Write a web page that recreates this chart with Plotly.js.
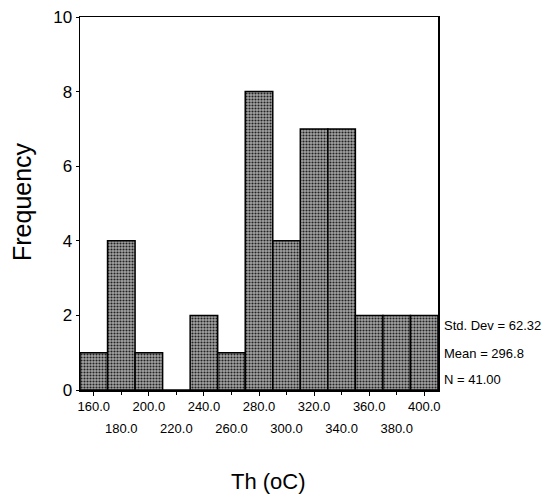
<!DOCTYPE html>
<html>
<head>
<meta charset="utf-8">
<script src="https://cdn.plot.ly/plotly-3.0.1.min.js"></script>
<style>html,body{margin:0;padding:0;background:#fff;}#chart{width:546px;height:498px;}</style>
</head>
<body>
<div id="chart"></div>
<script>
// Bin centres (Th, oC) and frequencies
const binCenters = [160, 180, 200, 220, 240, 260, 280, 300, 320, 340, 360, 380, 400];
const frequencies = [1, 4, 1, 0, 2, 1, 8, 4, 7, 7, 2, 2, 2];
const upperTickVals = [160, 200, 240, 280, 320, 360, 400];
const lowerTickVals = [180, 220, 260, 300, 340, 380];
const yTickVals = [0, 2, 4, 6, 8, 10];
const statsLines = ["Std. Dev = 62.32", "Mean = 296.8", "N = 41.00"];
const xTitle = "Th (oC)";
const yTitle = "Frequency";

const FONT = "Liberation Sans, Arial, sans-serif";
const fmt = v => v.toFixed(1);

const trace = {
  type: "bar",
  x: binCenters,
  y: frequencies,
  width: 20,
  marker: {
    color: "#7e7e7e",
    line: {color: "#000", width: 1.5},
    pattern: {shape: ".", bgcolor: "#a4a4a4", fgcolor: "#222", size: 3, solidity: 0.4}
  },
  hoverinfo: "none",
  showlegend: false
};

const statsY = [0.172, 0.099, 0.027];
const annotations = statsLines.map((t, i) => ({
  text: t, xref: "paper", yref: "paper", x: 1.012, y: statsY[i],
  xanchor: "left", yanchor: "middle", showarrow: false,
  font: {family: FONT, size: 13, color: "#000"}
}));
annotations.push({
  text: xTitle, xref: "paper", yref: "paper", x: 0.527, y: -0.245,
  xanchor: "center", yanchor: "middle", showarrow: false,
  font: {family: FONT, size: 22, color: "#000"}
});
annotations.push({
  text: yTitle, xref: "paper", yref: "paper", x: -0.162, y: 0.504,
  xanchor: "center", yanchor: "middle", showarrow: false, textangle: -90,
  font: {family: FONT, size: 25, color: "#000"}
});

const layout = {
  width: 546, height: 498,
  margin: {l: 80, r: 108, t: 17, b: 108},
  paper_bgcolor: "#fff", plot_bgcolor: "#fff",
  bargap: 0,
  xaxis: {
    range: [150, 410],
    tickvals: upperTickVals, ticktext: upperTickVals.map(fmt),
    ticks: "outside", ticklen: 4, tickcolor: "#000",
    showline: true, linecolor: "#000", linewidth: 1.5, mirror: true,
    showgrid: false, zeroline: false, fixedrange: true,
    tickfont: {family: FONT, size: 13, color: "#000"}
  },
  xaxis2: {
    overlaying: "x", side: "bottom", range: [150, 410],
    tickvals: lowerTickVals, ticktext: lowerTickVals.map(fmt),
    ticks: "outside", ticklen: 4, tickcolor: "#000",
    ticklabelstandoff: 22,
    showline: false, showgrid: false, zeroline: false, fixedrange: true,
    tickfont: {family: FONT, size: 13, color: "#000"}
  },
  yaxis: {
    range: [0, 10],
    tickvals: yTickVals,
    ticks: "outside", ticklen: 3, tickcolor: "#000",
    showline: true, linecolor: "#000", linewidth: 1.5, mirror: true,
    showgrid: false, zeroline: false, fixedrange: true,
    tickfont: {family: FONT, size: 17, color: "#000"}
  },
  annotations: annotations
};

const dummy = {type: "scatter", x: [150], y: [0], xaxis: "x2", mode: "markers",
  marker: {opacity: 0}, hoverinfo: "none", showlegend: false};

Plotly.newPlot("chart", [trace, dummy], layout, {displayModeBar: false, staticPlot: true});
</script>
</body>
</html>
